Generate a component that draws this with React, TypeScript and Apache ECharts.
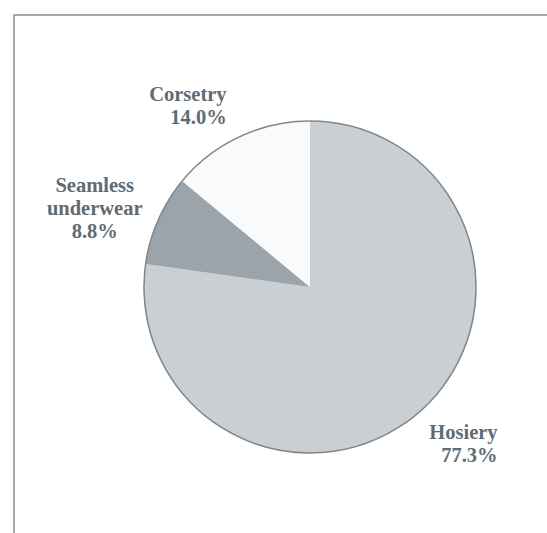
import React, { useEffect, useRef } from "react";
import * as echarts from "echarts";

const categories = ["Hosiery", "Seamless\nunderwear", "Corsetry"];
const shares = [77.3, 8.8, 14.0];
const colors = ["#c9cfd3", "#9ba4aa", "#f9fafb"];

// label layout nudges (alignment and offsets), not data
const labelAligns = ["right", "center", "right"];
const labelDx = [54, -31, 5];
const labelDy = [9, 0, -4];

export default function App() {
  const ref = useRef<HTMLDivElement>(null);
  useEffect(() => {
    if (!ref.current) return;
    const chart = echarts.init(ref.current, null, { renderer: "svg" });
    const labelStyle = {
      fontFamily: "Liberation Serif",
      fontWeight: "bold",
      fontSize: 20.5,
      lineHeight: 23,
      color: "#5f6b73",
    };
    chart.setOption({
      animation: false,
      backgroundColor: "#ffffff",
      graphic: [
        {
          type: "rect",
          silent: true,
          shape: { x: 14, y: 15, width: 700, height: 700 },
          style: { fill: "none", stroke: "#848d93", lineWidth: 1.5 },
        },
      ],
      series: [
        {
          type: "pie",
          center: [310, 287],
          radius: 166,
          startAngle: 90,
          clockwise: true,
          silent: true,
          itemStyle: { borderWidth: 0 },
          labelLine: { show: false, length: 30, length2: 0 },
          label: {
            show: true,
            position: "outside",
            formatter: (p: any) => `${p.name}\n${Number(p.value).toFixed(1)}%`,
            ...labelStyle,
          },
          labelLayout: (p: any) => ({
            align: labelAligns[p.dataIndex],
            dx: labelDx[p.dataIndex],
            dy: labelDy[p.dataIndex],
          }),
          data: categories.map((c, i) => ({
            name: c,
            value: shares[i],
            itemStyle: { color: colors[i] },
          })),
        },
        {
          type: "pie",
          center: [310, 287],
          radius: 166,
          silent: true,
          label: { show: false },
          labelLine: { show: false },
          itemStyle: { color: "rgba(0,0,0,0)", borderColor: "#7f878c", borderWidth: 1.5 },
          data: [{ name: "outline", value: 1 }],
        },
      ],
    });
    return () => chart.dispose();
  }, []);
  return (
    <div
      ref={ref}
      style={{ position: "fixed", left: 0, top: 0, width: 547, height: 533 }}
    />
  );
}
